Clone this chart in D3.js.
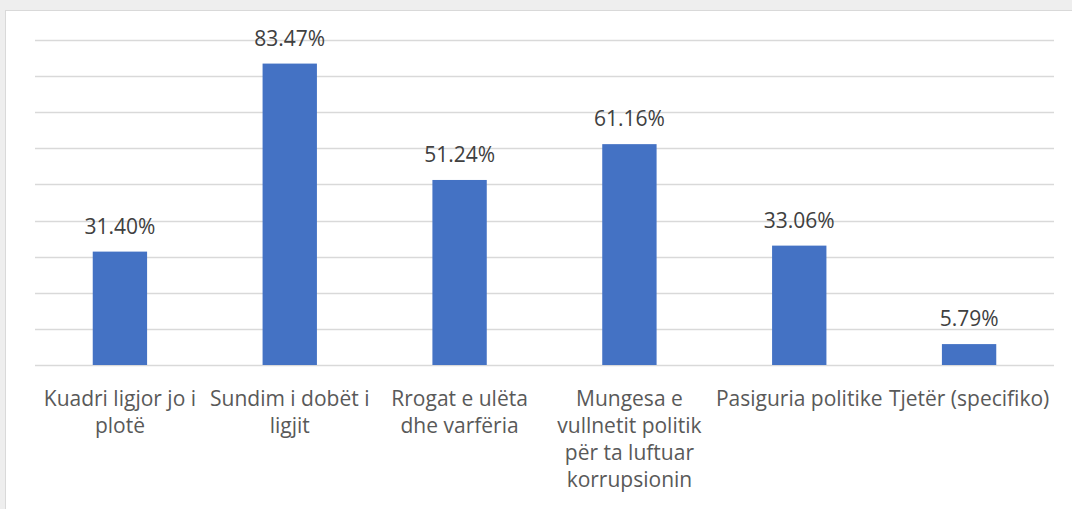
<!DOCTYPE html>
<html>
<head>
<meta charset="utf-8">
<script src="https://cdn.jsdelivr.net/npm/d3@7"></script>
<style>
  body { margin: 0; background: #eeeeee; }
  #chart { position: absolute; left: 5px; top: 10px; }
</style>
</head>
<body>
<div id="chart"></div>
<script>
let categories = [
    "Kuadri ligjor jo i plotë",
    "Sundim i dobët i ligjit",
    "Rrogat e ulëta dhe varfëria",
    "Mungesa e vullnetit politik për ta luftuar korrupsionin",
    "Pasiguria politike",
    "Tjetër (specifiko)"
];
let values = [31.40, 83.47, 51.24, 61.16, 33.06, 5.79];
let gridTicks = [0, 10, 20, 30, 40, 50, 60, 70, 80, 90];

let margin = {top: 30, right: 13, bottom: 150, left: 30}
    , width = 1019
    , height = 325;

let svg = d3.select("#chart").append("svg")
    .attr("width", 1072)
    .attr("height", 520)
    .style("display", "block");

svg.append("rect")
    .attr("x", 0.5).attr("y", 0.5)
    .attr("width", 1080).attr("height", 520)
    .attr("fill", "#ffffff")
    .attr("stroke", "#d9d9d9");

let g = svg.append("g")
    .attr("transform", "translate(" + margin.left + "," + margin.top + ")");

let x = d3.scaleBand()
    .domain(categories)
    .range([0, width])
    .paddingInner(0.68)
    .paddingOuter(0.34);

let y = d3.scaleLinear()
    .domain([0, 90])
    .range([height, 0]);

// gridlines
g.selectAll(".grid")
    .data(gridTicks)
    .enter().append("line")
    .attr("class", "grid")
    .attr("x1", 0)
    .attr("x2", width)
    .attr("y1", d => Math.round(y(d)) + 0.5)
    .attr("y2", d => Math.round(y(d)) + 0.5)
    .attr("stroke", "#d9d9d9")
    .attr("stroke-width", 1.3);

g.selectAll(".bar")
    .data(values)
    .enter().append("rect")
    .attr("class", "bar")
    .attr("x", (d, i) => x(categories[i]))
    .attr("y", d => y(d))
    .attr("width", x.bandwidth())
    .attr("height", d => height - y(d))
    .style("fill", "#4472c4");

g.selectAll(".vlabel")
    .data(values)
    .enter().append("text")
    .attr("class", "vlabel")
    .attr("text-anchor", "middle")
    .attr("x", (d, i) => x(categories[i]) + x.bandwidth() / 2)
    .attr("y", d => y(d) - 18)
    .style("font-family", "'Open Sans', sans-serif")
    .style("font-size", "21px")
    .style("fill", "#404040")
    .text(d => d.toFixed(2) + "%");

// category labels, wrapped to the band step
let step = x.step();
let xaxis = g.append("g")
    .attr("transform", "translate(0," + height + ")");

let lab = xaxis.selectAll(".clabel")
    .data(categories)
    .enter().append("text")
    .attr("class", "clabel")
    .attr("text-anchor", "middle")
    .style("font-family", "'Open Sans', sans-serif")
    .style("font-size", "21px")
    .style("fill", "#595959")
    .attr("x", d => x(d) + x.bandwidth() / 2)
    .attr("y", 41);

lab.each(function (d) {
    let t = d3.select(this);
    let words = d.split(" ");
    let line = [];
    let tspan = t.append("tspan").attr("x", t.attr("x")).attr("dy", 0);
    words.forEach(function (w) {
        line.push(w);
        tspan.text(line.join(" "));
        if (tspan.node().getComputedTextLength() > step && line.length > 1) {
            line.pop();
            tspan.text(line.join(" "));
            line = [w];
            tspan = t.append("tspan").attr("x", t.attr("x")).attr("dy", 27).text(w);
        }
    });
});
</script>
</body>
</html>
